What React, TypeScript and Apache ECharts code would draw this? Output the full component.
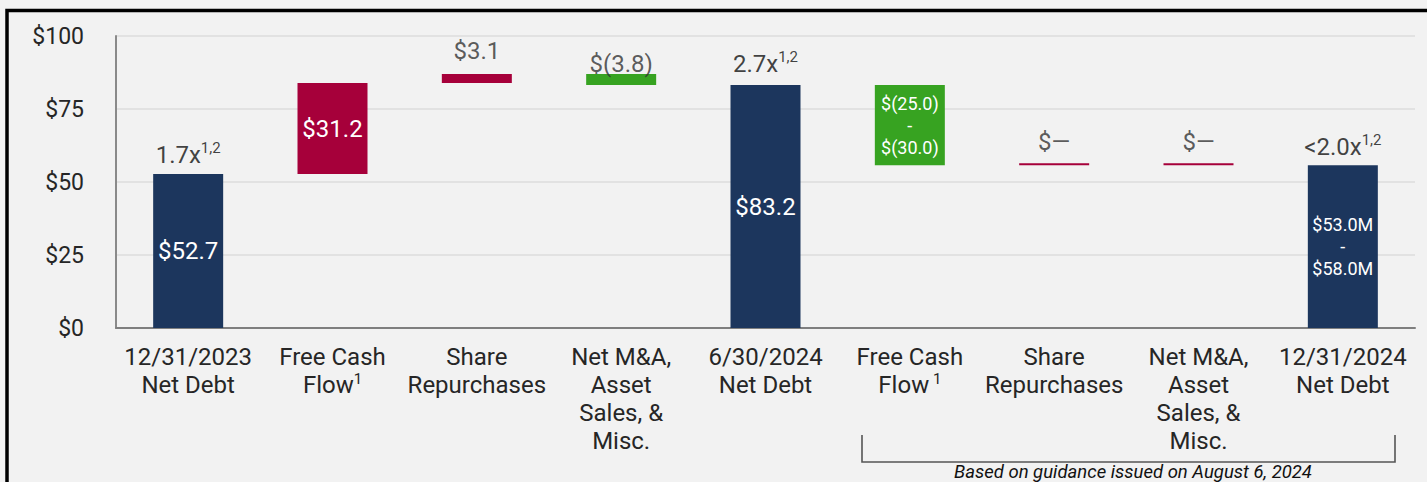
import React, { useEffect, useRef } from "react";
import * as echarts from "echarts";

const categories = [
  "12/31/2023\nNet Debt",
  "Free Cash\nFlow",
  "Share\nRepurchases",
  "Net M&A,\nAsset\nSales, &\nMisc.",
  "6/30/2024\nNet Debt",
  "Free Cash\nFlow",
  "Share\nRepurchases",
  "Net M&A,\nAsset\nSales, &\nMisc.",
  "12/31/2024\nNet Debt",
];
const categoryNotes = ["", "1", "", "", "", " 1", "", "", ""];
const kinds = ["total", "delta", "delta", "delta", "total", "delta", "delta", "delta", "total"];
const amounts = [52.7, 31.2, 3.1, -3.8, 83.2, -27.5, 0, 0, 55.7];
const insideLabels = ["$52.7", "$31.2", "", "", "$83.2", "$(25.0)\n-\n$(30.0)", "", "", "$53.0M\n-\n$58.0M"];
const topLabels = ["1.7x", "", "$3.1", "$(3.8)", "2.7x", "", "$\u2014", "$\u2014", "<2.0x"];
const topNotes = ["1,2", "", "", "", "1,2", "", "", "", "1,2"];
const yTicks = [0, 25, 50, 75, 100];
const footnote = "Based on guidance issued on August 6, 2024";

// style-only arrays
const topGap = [5, 0, 8, -5, 7, 0, 9, 9, 4];
const topColor = ["#111", "#111", "#333", "#333", "#111", "#111", "#333", "#333", "#111"];

const NAVY = "#1c365d";
const RED = "#a6003a";
const GREEN = "#37a321";
const FONT = "Roboto";

export default function App() {
  const ref = useRef<HTMLDivElement>(null);
  useEffect(() => {
    if (!ref.current) return;
    const chart = echarts.init(ref.current, null, { renderer: "svg" });

    const bases: number[] = [];
    const heights: number[] = [];
    const tops: number[] = [];
    const colors: string[] = [];
    let run = 0;
    amounts.forEach((a, i) => {
      if (kinds[i] === "total") {
        bases.push(0);
        heights.push(a);
        tops.push(a);
        colors.push(NAVY);
        run = a;
      } else {
        const next = run + a;
        bases.push(Math.min(run, next));
        heights.push(Math.abs(a));
        tops.push(Math.max(run, next));
        colors.push(a < 0 ? GREEN : RED);
        run = next;
      }
    });

    const option: any = {
      animation: false,
      backgroundColor: "#f2f2f2",
      grid: { left: 116, right: 12, top: 36, bottom: 154 },
      xAxis: {
        type: "category",
        data: categories,
        axisLine: { show: true, lineStyle: { color: "#7f7f7f", width: 2 } },
        axisTick: { show: false },
        axisLabel: {
          interval: 0,
          margin: 15,
          formatter: (v: string, i: number) =>
            categoryNotes[i] ? `{t|${v}}{s|${categoryNotes[i]}}` : `{t|${v}}`,
          rich: {
            t: { fontFamily: FONT, fontSize: 24, lineHeight: 28, color: "#262626" },
            s: { fontFamily: FONT, fontSize: 15, lineHeight: 16, color: "#262626", verticalAlign: "top" },
          },
        },
      },
      yAxis: {
        type: "value",
        min: 0,
        max: 100,
        interval: 25,
        axisLine: { show: true, lineStyle: { color: "#8a8a8a", width: 2 } },
        axisTick: { show: false },
        splitLine: { lineStyle: { color: "#e2e2e2", width: 2 } },
        axisLabel: {
          margin: 32,
          fontFamily: FONT,
          fontSize: 23,
          color: "#262626",
          formatter: (v: number) => (yTicks.includes(v) ? `$${v}` : ""),
        },
      },
      series: [
        {
          type: "bar",
          stack: "w",
          silent: true,
          barWidth: 70,
          itemStyle: { color: "transparent" },
          data: bases,
        },
        {
          type: "bar",
          stack: "w",
          barWidth: 70,
          barMinHeight: 2,
          data: heights.map((h, i) => ({
            value: h,
            itemStyle: { color: colors[i] },
            label: {
              show: !!insideLabels[i],
              position: "inside",
              color: "#fff",
              fontFamily: FONT,
              fontSize: insideLabels[i].includes("\n") ? 18 : 24,
              lineHeight: insideLabels[i].includes("\n") ? 22 : 28,
              formatter: () => insideLabels[i],
            },
          })),
        },
        {
          type: "scatter",
          symbolSize: 1,
          silent: true,
          itemStyle: { color: "transparent" },
          data: tops.map((t, i) => ({
            value: t,
            label: {
              show: !!topLabels[i],
              position: "top",
              distance: topGap[i],
              formatter: () =>
                topNotes[i] ? `{a|${topLabels[i]}}{s|${topNotes[i]}}` : `{a|${topLabels[i]}}`,
              rich: {
                a: { fontFamily: FONT, fontSize: 24, lineHeight: 28, color: topColor[i] },
                s: { fontFamily: FONT, fontSize: 15, lineHeight: 14, color: topColor[i], verticalAlign: "top" },
              },
            },
          })),
        },
      ],
      graphic: [
        {
          type: "rect",
          shape: { x: 7, y: 10.5, width: 1440, height: 500 },
          style: { fill: "none", stroke: "#000", lineWidth: 3.5 },
          silent: true,
        },
        {
          type: "polyline",
          shape: { points: [[862, 435], [862, 462], [1395, 462], [1395, 435]] },
          style: { fill: "none", stroke: "#555", lineWidth: 1.6 },
          silent: true,
        },
        {
          type: "text",
          x: 1133,
          y: 472,
          style: {
            text: footnote,
            fontFamily: FONT,
            fontSize: 18.5,
            fontStyle: "italic",
            fill: "#111",
            align: "center",
            verticalAlign: "middle",
          },
          silent: true,
        },
      ],
    };
    chart.setOption(option);
    return () => chart.dispose();
  }, []);
  return (
    <div
      ref={ref}
      style={{ position: "absolute", left: 0, top: 0, width: 1427, height: 482, background: "#f2f2f2" }}
    />
  );
}
